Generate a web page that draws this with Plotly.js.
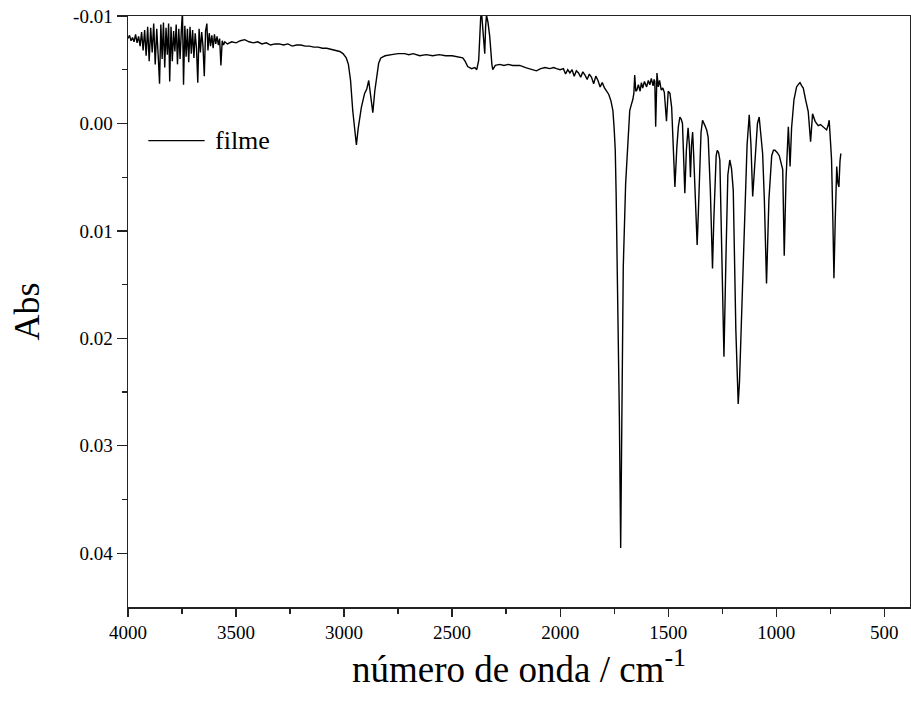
<!DOCTYPE html>
<html>
<head>
<meta charset="utf-8">
<script src="https://cdn.plot.ly/plotly-3.0.1.min.js"></script>
<style>html,body{margin:0;padding:0;background:#fff;}#chart{width:911px;height:706px;}</style>
</head>
<body>
<div id="chart"></div>
<script>
const seriesName = "filme";
const wavenumber = [
4000,3993,3986,3979,3972,3965,3958,3951,3944,3937,3930,3923,3916,3909,3902,3895,3888,3881,3874,3867,3860,3854,3848,3842,3836,3830,3824,3818,3812,3807,3801,3795,3789,3783,3777,3771,3765,3759,3753,3748,3743,3737,3731,3725,3719,3713,3707,3701,3695,3689,3683,3677,3671,3665,3659,3653,3647,3641,3635,3630,3624,3618,3612,3606,3600,3594,3588,3582,3576,3570,3564,3558,3552,
3540,3520,3500,3480,3460,3440,3420,3400,3380,3360,3340,3320,3300,3280,3260,3240,3220,3200,3180,3160,3140,3120,3100,3080,3060,3040,3020,3005,2990,2980,2970,2960,2950,2943,2935,2920,2905,2895,2886,2875,2867,2858,2850,2840,2830,2810,2780,2750,2720,2700,2680,2650,2620,2590,2560,2530,2500,2470,2451,2440,2428,2410,2395,2386,2377,2368,2364,2358,2352,2349,2345,2341,2334,2326,2316,2312,2300,2280,2260,2240,2220,2200,2187,2160,2140,2120,2110,2090,2070,2048,2030,2017,2000,1985,1975,1965,1955,1945,1935,1925,1915,1905,1895,1885,1875,1865,1855,1845,1835,1825,1815,1805,1795,1785,1775,1765,1756,1750,1745,1741,1733,1726,1720,1715,1708,1697,1687,1678,1670,1664,1659,1655,1650,1645,1638,1630,1624,1618,1610,1600,1592,1585,1578,1570,1565,1562,1558,1555,1552,1546,1540,1532,1525,1518,1508,1500,1492,1484,1478,1469,1460,1453,1446,1440,1434,1429,1423,1416,1408,1402,1397,1392,1387,1382,1377,1366,1360,1354,1348,1341,1335,1330,1322,1315,1305,1295,1289,1284,1278,1273,1267,1261,1252,1242,1233,1224,1215,1207,1199,1187,1176,1170,1164,1155,1145,1135,1125,1117,1109,1101,1094,1087,1079,1071,1063,1055,1045,1034,1021,1013,1006,996,986,970,963,955,944,936,929,918,906,895,890,882,875,864,852,841,832,820,806,795,783,775,767,760,755,748,744,738,733,727,720,715,710,705,701
];
const absorbance = [
-0.0079,-0.0082,-0.0077,-0.0080,-0.0076,-0.0083,-0.0075,-0.0081,-0.0072,-0.0085,-0.0068,-0.0087,-0.0063,-0.0090,-0.0058,-0.0089,-0.0066,-0.0093,-0.0055,-0.0088,-0.0062,-0.0037,-0.0092,-0.0060,-0.0094,-0.0052,-0.0089,-0.0064,-0.0093,-0.0039,-0.0090,-0.0058,-0.0086,-0.0067,-0.0092,-0.0055,-0.0088,-0.0060,-0.0087,-0.0104,-0.0036,-0.0091,-0.0062,-0.0088,-0.0057,-0.0090,-0.0065,-0.0087,-0.0061,-0.0084,-0.0070,-0.0038,-0.0088,-0.0066,-0.0085,-0.0072,-0.0044,-0.0086,-0.0093,-0.0068,-0.0084,-0.0072,-0.0082,-0.0070,-0.0083,-0.0074,-0.0081,-0.0073,-0.0079,-0.0054,-0.0077,-0.0073,-0.0076,
-0.0074,-0.0076,-0.0075,-0.0077,-0.0078,-0.0076,-0.0075,-0.0076,-0.0074,-0.0075,-0.0073,-0.0074,-0.0074,-0.0073,-0.0074,-0.0072,-0.0073,-0.0073,-0.0072,-0.0072,-0.0071,-0.0071,-0.0070,-0.0070,-0.0069,-0.0068,-0.0067,-0.0065,-0.0061,-0.0055,-0.0040,-0.0012,0.0010,0.0020,0.0005,-0.0015,-0.0028,-0.0032,-0.0040,-0.0025,-0.0010,-0.0030,-0.0043,-0.0056,-0.0061,-0.0063,-0.0064,-0.0065,-0.0065,-0.0064,-0.0065,-0.0063,-0.0064,-0.0063,-0.0064,-0.0063,-0.0063,-0.0062,-0.0061,-0.0058,-0.0053,-0.0051,-0.0052,-0.0050,-0.0059,-0.0098,-0.0104,-0.0088,-0.0066,-0.0065,-0.0090,-0.0101,-0.0094,-0.0081,-0.0055,-0.0050,-0.0054,-0.0055,-0.0054,-0.0055,-0.0054,-0.0054,-0.0054,-0.0052,-0.0051,-0.0050,-0.0049,-0.0051,-0.0052,-0.0051,-0.0052,-0.0051,-0.0050,-0.0051,-0.0046,-0.0050,-0.0047,-0.0050,-0.0044,-0.0049,-0.0047,-0.0043,-0.0048,-0.0045,-0.0041,-0.0046,-0.0043,-0.0037,-0.0044,-0.0040,-0.0034,-0.0038,-0.0033,-0.0030,-0.0027,-0.0021,-0.0012,0.0005,0.0025,0.0065,0.0164,0.0273,0.0395,0.0242,0.0134,0.0056,0.0020,-0.0012,-0.0018,-0.0022,-0.0028,-0.0045,-0.0030,-0.0031,-0.0036,-0.0030,-0.0038,-0.0033,-0.0039,-0.0034,-0.0040,-0.0036,-0.0042,-0.0035,-0.0041,-0.0039,0.0003,-0.0038,-0.0047,-0.0034,-0.0040,-0.0031,-0.0033,-0.0029,-0.0002,-0.0030,-0.0028,-0.0015,0.0013,0.0059,0.0022,0.0003,-0.0006,-0.0004,0.0000,0.0030,0.0065,0.0025,0.0004,0.0020,0.0050,0.0020,0.0008,0.0030,0.0062,0.0113,0.0080,0.0034,0.0008,-0.0003,-0.0001,0.0002,0.0006,0.0013,0.0062,0.0135,0.0090,0.0053,0.0030,0.0025,0.0027,0.0034,0.0118,0.0217,0.0127,0.0048,0.0034,0.0042,0.0062,0.0192,0.0261,0.0240,0.0202,0.0140,0.0084,0.0020,-0.0008,0.0020,0.0068,0.0040,0.0016,0.0000,-0.0006,0.0008,0.0028,0.0071,0.0149,0.0071,0.0030,0.0025,0.0025,0.0027,0.0030,0.0043,0.0123,0.0053,0.0003,0.0040,0.0004,-0.0022,-0.0034,-0.0037,-0.0038,-0.0035,-0.0033,-0.0022,-0.0011,0.0017,-0.0009,-0.0002,0.0002,0.0001,0.0003,0.0004,0.0006,0.0002,-0.0003,0.0020,0.0034,0.0090,0.0144,0.0090,0.0040,0.0055,0.0059,0.0035,0.0028
];
const yTickVals = [-0.01, 0.00, 0.01, 0.02, 0.03, 0.04];
const yTickText = ["-0.01", "0.00", "0.01", "0.02", "0.03", "0.04"];
const yMinorVals = [-0.005, 0.005, 0.015, 0.025, 0.035];
const xTitle = "número de onda / cm<sup>-1</sup>";
const yTitle = "Abs";

const font = "Liberation Serif, Times New Roman, serif";
const trace = {
  x: wavenumber, y: absorbance, type: "scatter", mode: "lines", name: seriesName,
  line: {color: "#000", width: 1.4}, showlegend: false
};
const layout = {
  width: 911, height: 706,
  margin: {l: 128, r: 1, t: 16, b: 99},
  paper_bgcolor: "#fff", plot_bgcolor: "#fff",
  font: {family: font, color: "#000"},
  showlegend: false,
  xaxis: {
    range: [4000, 381], dtick: 500, tick0: 0, tickmode: "linear",
    ticks: "outside", ticklen: 8, tickwidth: 1.3, tickcolor: "#222",
    minor: {dtick: 250, tick0: 250, ticks: "outside", ticklen: 5, tickwidth: 1.3, tickcolor: "#222"},
    showline: true, linecolor: "#222", linewidth: 1.5, mirror: true,
    showgrid: false, zeroline: false,
    tickfont: {family: font, size: 19, color: "#000"},
    title: {text: xTitle, font: {family: font, size: 37, color: "#000"}, standoff: 8}
  },
  yaxis: {
    range: [0.045, -0.01], tickmode: "array", tickvals: yTickVals, ticktext: yTickText,
    ticks: "outside", ticklen: 10, tickwidth: 1.3, tickcolor: "#222",
    minor: {tickmode: "array", tickvals: yMinorVals, ticks: "outside", ticklen: 5, tickwidth: 1.3, tickcolor: "#222"},
    showline: true, linecolor: "#222", linewidth: 1.5, mirror: true,
    showgrid: false, zeroline: false,
    tickfont: {family: font, size: 19, color: "#000"},
    title: {text: yTitle, font: {family: font, size: 36, color: "#000"}, standoff: 22}
  },
  shapes: [{type: "line", xref: "paper", yref: "paper", x0: 0.026, x1: 0.098, y0: 0.789, y1: 0.789,
            line: {color: "#000", width: 1.3}}],
  annotations: [{xref: "paper", yref: "paper", x: 0.1085, y: 0.789, xanchor: "left", yanchor: "middle",
                 text: seriesName, showarrow: false, font: {family: font, size: 26, color: "#000"}}]
};
Plotly.newPlot("chart", [trace], layout, {displayModeBar: false, staticPlot: true});
</script>
</body>
</html>
